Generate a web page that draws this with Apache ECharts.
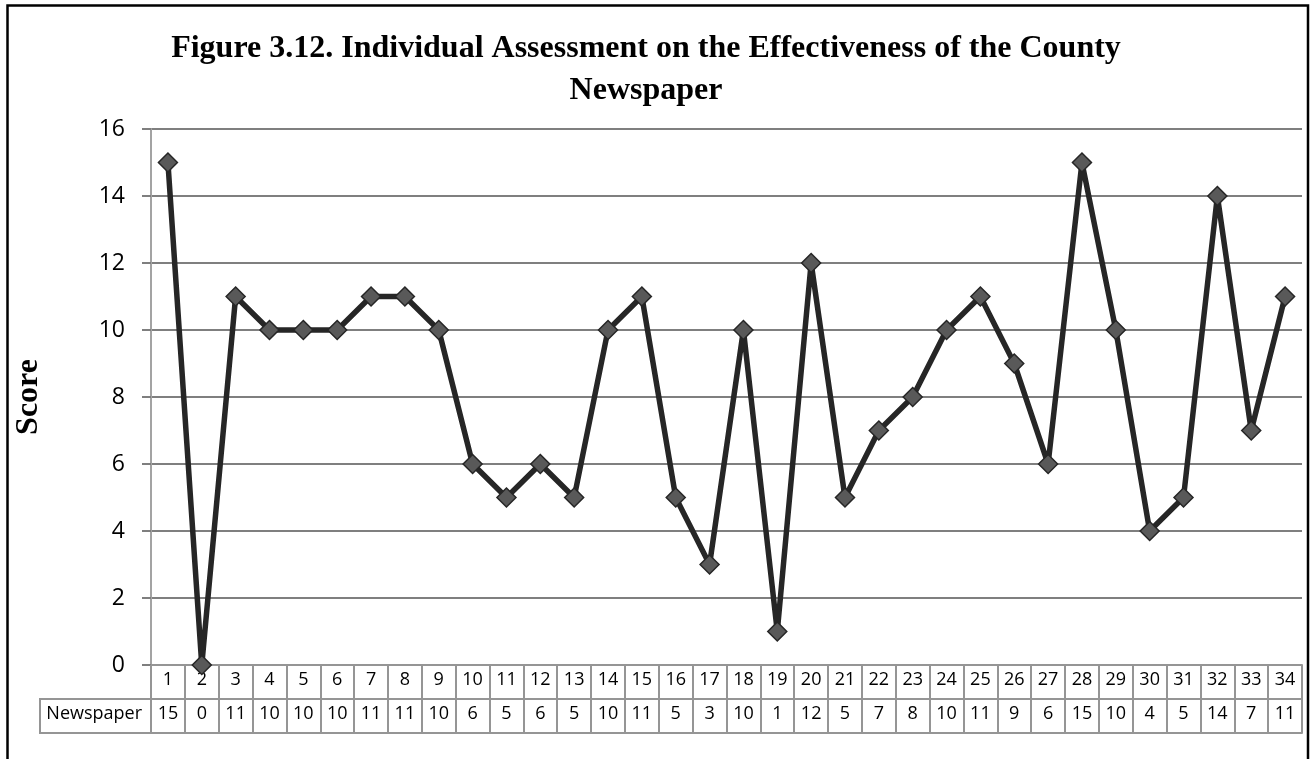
<!DOCTYPE html>
<html>
<head>
<meta charset="utf-8">
<script src="https://cdn.jsdelivr.net/npm/echarts@6/dist/echarts.min.js"></script>
<style>
  html, body { margin: 0; padding: 0; background: #fff; }
  #chart { width: 1312px; height: 759px; }
</style>
</head>
<body>
<div id="chart"></div>
<script>
// Respondent numbers along the x axis
const respondents = ['1','2','3','4','5','6','7','8','9','10','11','12','13','14','15','16','17',
  '18','19','20','21','22','23','24','25','26','27','28','29','30','31','32','33','34'];
// Newspaper effectiveness score per respondent
const newspaperScores = [15, 0, 11, 10, 10, 10, 11, 11, 10, 6, 5, 6, 5, 10, 11, 5, 3,
  10, 1, 12, 5, 7, 8, 10, 11, 9, 6, 15, 10, 4, 5, 14, 7, 11];
const seriesName = 'Newspaper';
const yTicks = { min: 0, max: 16, interval: 2 };

const gridLeft = 151, gridRight = 10, gridTop = 129, gridBottom = 94;
const rowH = 34;
const tableColor = '#959595';
const cellFont = { fontFamily: 'Open Sans', fontSize: 18, color: '#000' };

const chart = echarts.init(document.getElementById('chart'));

const option = {
  animation: false,
  backgroundColor: '#fff',
  title: {
    text: 'Figure 3.12. Individual Assessment on the Effectiveness of the County\nNewspaper',
    left: 641,
    top: 23,
    textAlign: 'center',
    textStyle: {
      fontFamily: 'Liberation Serif',
      fontWeight: 'bold',
      fontSize: 32,
      lineHeight: 42,
      color: '#000'
    }
  },
  grid: { left: gridLeft, right: gridRight, top: gridTop, bottom: gridBottom, containLabel: false },
  xAxis: [
    {
      // category row of the data table
      type: 'category',
      data: respondents,
      position: 'bottom',
      boundaryGap: true,
      axisLine: { show: true, lineStyle: { color: tableColor, width: 2 } },
      axisTick: { show: true, interval: 0, length: rowH * 2, lineStyle: { color: tableColor, width: 2 } },
      axisLabel: { interval: 0, margin: 6, ...cellFont },
      splitLine: { show: false }
    },
    {
      // value row of the data table
      type: 'category',
      data: respondents,
      position: 'bottom',
      offset: rowH,
      boundaryGap: true,
      name: seriesName,
      nameLocation: 'start',
      nameGap: 9,
      nameTextStyle: { ...cellFont, verticalAlign: 'top', padding: [6, 0, 0, 0] },
      axisLine: { show: true, lineStyle: { color: tableColor, width: 2 } },
      axisTick: { show: false },
      axisLabel: {
        interval: 0, margin: 6, ...cellFont,
        formatter: (v, i) => String(newspaperScores[i])
      },
      splitLine: { show: false }
    },
    {
      // bottom border of the data table
      type: 'category',
      data: respondents,
      position: 'bottom',
      offset: rowH * 2,
      axisLine: { show: true, lineStyle: { color: tableColor, width: 2 } },
      axisTick: { show: false },
      axisLabel: { show: false },
      splitLine: { show: false }
    }
  ],
  yAxis: {
    type: 'value',
    min: yTicks.min,
    max: yTicks.max,
    interval: yTicks.interval,
    name: 'Score',
    nameLocation: 'middle',
    nameGap: 106,
    nameRotate: 90,
    nameTextStyle: {
      fontFamily: 'Liberation Serif',
      fontWeight: 'bold',
      fontSize: 32,
      color: '#000'
    },
    axisLine: { show: true, lineStyle: { color: '#a3a3a3', width: 2 } },
    axisTick: { show: true, length: 9, lineStyle: { color: '#7f7f7f', width: 2 } },
    axisLabel: { margin: 26, fontFamily: 'Open Sans', fontSize: 23, color: '#000' },
    splitLine: { show: true, lineStyle: { color: '#7f7f7f', width: 2 } }
  },
  series: [
    {
      name: seriesName,
      type: 'line',
      xAxisIndex: 0,
      data: newspaperScores,
      symbol: 'diamond',
      symbolSize: 19,
      showAllSymbol: true,
      lineStyle: { color: '#262626', width: 5.5 },
      itemStyle: { color: '#595959', borderColor: '#262626', borderWidth: 1.5 },
      z: 5
    }
  ]
};

chart.setOption(option);

// Header cell for the value row plus the outer frame of the figure
const rowTop = 759 - gridBottom + rowH;
chart.setOption({
  graphic: [
    {
      type: 'polyline',
      shape: { points: [[gridLeft, rowTop], [40, rowTop], [40, rowTop + rowH], [gridLeft, rowTop + rowH]] },
      style: { stroke: tableColor, lineWidth: 2, fill: null },
      z: 1
    },
    {
      type: 'rect',
      shape: { x: 7.5, y: 5.5, width: 1300.5, height: 820 },
      style: { stroke: '#000', lineWidth: 2.5, fill: null },
      silent: true,
      z: 10
    }
  ]
});
</script>
</body>
</html>
